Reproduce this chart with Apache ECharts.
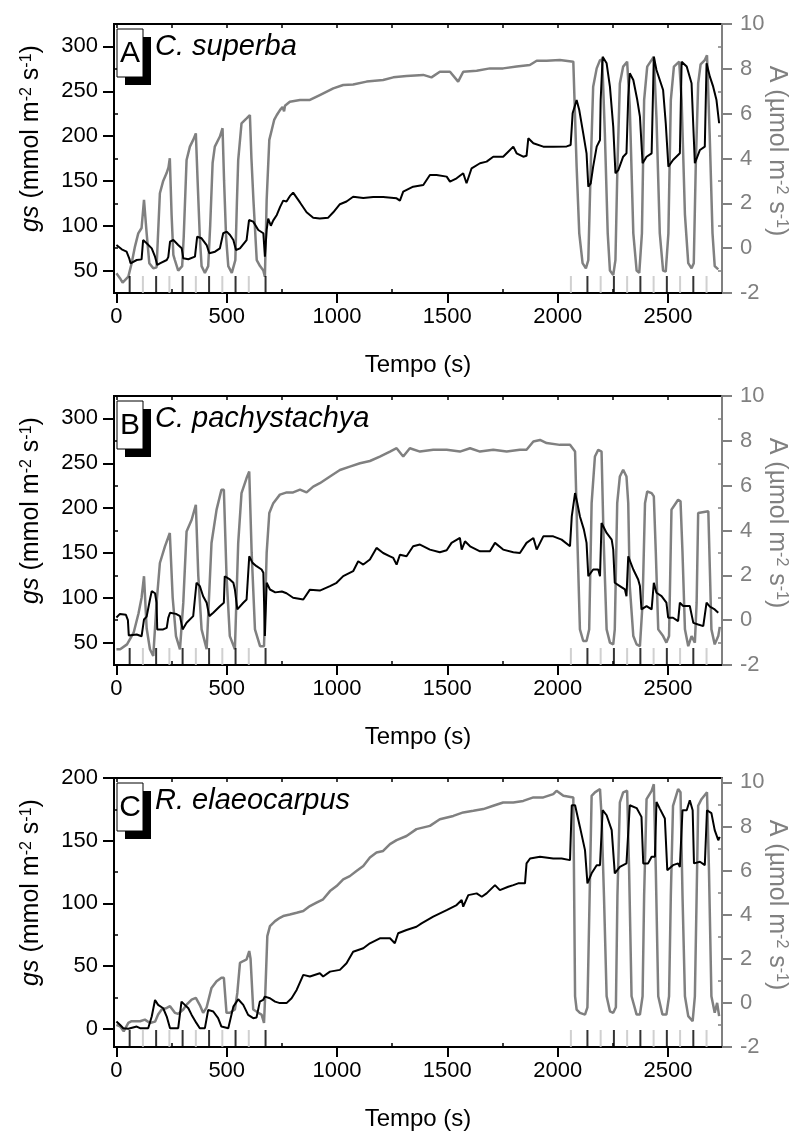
<!DOCTYPE html>
<html>
<head>
<meta charset="utf-8">
<script src="https://cdn.jsdelivr.net/npm/echarts@6/dist/echarts.min.js"></script>
<style>
  html, body { margin: 0; padding: 0; background: #fff; }
  #chart { width: 795px; height: 1133px; }
</style>
</head>
<body>
<div id="chart"></div>
<script>
// ---- tick values ----
var xTicks = [0, 500, 1000, 1500, 2000, 2500];
var xMinor = [250, 750, 1250, 1750, 2250];
var gsTicksAB = [50, 100, 150, 200, 250, 300];
var gsMinorAB = [75, 125, 175, 225, 275];
var gsTicksC = [0, 50, 100, 150, 200];
var gsMinorC = [25, 75, 125, 175];
var aTicks = [-2, 0, 2, 4, 6, 8, 10];
var aMinor = [-1, 1, 3, 5, 7, 9];

// light on / off marks (s)
var lightOn = [60, 180, 300, 420, 540, 676, 2135, 2255, 2375, 2495, 2615];
var lightOff = [120, 240, 360, 480, 600, 2060, 2195, 2315, 2435, 2555, 2675];

// ---- A: C. superba ----  [tempo, valor]
var gsA = [[0,78.5],[24,73.7],[46,71.1],[58,63.7],[64,58.1],[92,61.8],[114,62.5],[121,84.1],[137,80.4],[160,74.8],[175,65.5],[185,56.2],[197,58.1],[228,61.8],[235,65],[243,82.2],[258,84.1],[280,78.5],[296,74.8],[303,63.7],[326,62.6],[356,65.5],[366,87.8],[386,86],[409,78.5],[421,69.3],[447,71.1],[469,74.8],[484,91.6],[500,93.4],[515,89.7],[530,84.1],[542,73],[560,74.8],[590,84.1],[601,106.4],[620,104.6],[643,95.3],[666,91.6],[673,65.5],[681,95.3],[688,108],[700,100],[711,106],[727,112],[742,121],[756,128],[771,127],[786,133],[801,137],[832,126],[862,115],[892,109],[922,108],[960,109],[983,115],[1013,124],[1043,127],[1073,132.4],[1119,131],[1164,132],[1209,132],[1270,130.6],[1285,128],[1300,138],[1345,143.6],[1391,145.5],[1421,156.6],[1451,156.6],[1497,154.8],[1512,149.2],[1542,152.9],[1572,158.5],[1587,147.4],[1610,164.1],[1648,169.7],[1678,171.5],[1708,177],[1753,177],[1776,182.6],[1799,188.2],[1814,180.8],[1844,177],[1859,178],[1867,197.5],[1890,192],[1935,188.2],[1980,188.2],[2041,188.5],[2059,190],[2068,225.4],[2086,240.2],[2098,229],[2116,203.1],[2131,180.8],[2139,143.6],[2150,147.3],[2161,166],[2177,188.2],[2192,195.6],[2195,240.2],[2204,288.5],[2222,281.2],[2237,255.1],[2252,210.5],[2262,158.5],[2275,162],[2297,177],[2312,180.8],[2320,243.9],[2327,270],[2343,262.6],[2361,240.2],[2373,221.6],[2385,169.7],[2403,177],[2426,180.8],[2436,288.5],[2448,273.7],[2478,251.4],[2490,214.3],[2502,166],[2523,173.3],[2554,180.8],[2562,283],[2585,277.5],[2607,258.9],[2615,210.5],[2622,169.7],[2645,184.5],[2667,188.2],[2675,281.2],[2690,266.3],[2705,255.1],[2720,240.2],[2732,214.3]];
var photoA = [[0,-1.12],[16,-1.34],[28,-1.54],[54,-1.27],[69,-0.67],[84,0.07],[99,0.66],[114,0.9],[125,2.15],[137,0.66],[149,-0.67],[167,-0.9],[182,-0.85],[197,2.45],[212,3.0],[227,3.34],[236,3.6],[242,4.01],[250,1.5],[258,-0.3],[265,-0.53],[280,-1.0],[298,-0.8],[305,0.5],[318,3.93],[333,4.53],[348,4.83],[360,5.12],[368,3.0],[378,0.5],[386,-0.8],[401,-1.1],[416,-0.8],[425,1.0],[436,3.8],[446,4.53],[469,4.98],[481,5.35],[488,3.0],[497,0.5],[507,-0.8],[523,-1.1],[539,-0.53],[546,2.0],[552,3.93],[567,5.57],[590,5.79],[605,5.94],[612,4.0],[621,2.15],[636,-0.53],[651,-0.8],[666,-1.0],[673,-1.27],[681,2.15],[693,4.83],[704,5.27],[715,5.72],[727,5.94],[742,6.17],[753,6.3],[760,6.1],[764,6.35],[786,6.53],[832,6.61],[877,6.61],[922,6.83],[983,7.13],[1028,7.28],[1073,7.3],[1134,7.43],[1209,7.5],[1255,7.62],[1315,7.68],[1391,7.73],[1428,7.62],[1466,7.87],[1512,7.87],[1549,7.43],[1572,7.87],[1633,7.91],[1693,8.02],[1753,8.02],[1814,8.1],[1874,8.17],[1905,8.36],[1950,8.36],[2010,8.39],[2071,8.32],[2086,3.64],[2098,0.66],[2113,-0.67],[2128,-0.9],[2139,-0.53],[2150,3.64],[2161,7.2],[2177,8.02],[2192,8.39],[2202,8.42],[2214,5.12],[2227,0.66],[2237,-1.0],[2252,-1.2],[2262,-0.53],[2271,3.64],[2282,7.35],[2297,8.1],[2315,8.32],[2327,6.3],[2343,0.66],[2358,-1.0],[2370,-1.1],[2382,0.66],[2392,6.6],[2406,8.1],[2421,8.32],[2436,8.54],[2448,5.8],[2463,0.66],[2478,-1.0],[2490,-1.05],[2502,0.66],[2513,6.6],[2527,8.1],[2551,8.32],[2562,6.6],[2577,1.5],[2592,-0.67],[2607,-0.9],[2617,-0.67],[2626,3.64],[2637,7.35],[2648,8.2],[2667,8.39],[2677,8.6],[2689,5.12],[2702,0.66],[2712,-0.8],[2728,-0.95]];

// ---- B: C. pachystachya ----
var gsB = [[0,78],[16,82],[43,81],[52,75],[56,58],[92,59],[114,57],[125,75.8],[137,79],[152,98.1],[160,107.3],[175,105],[182,94.4],[185,64.7],[212,64.7],[228,66.5],[235,77.6],[243,83.3],[270,82],[288,79.5],[300,64.7],[318,72.2],[348,79.5],[363,116.7],[378,113],[393,101.7],[409,94.4],[421,79.5],[439,83.3],[469,90.6],[487,94.4],[491,124],[514,120.4],[530,116.7],[537,109.2],[548,87],[575,94.4],[590,98.1],[602,146.2],[617,138.9],[635,135.2],[658,131.5],[666,127.8],[673,57.3],[681,116.7],[696,109.2],[720,106],[750,107],[771,105],[801,100],[847,98],[877,109],[922,108],[968,112.9],[998,116.7],[1028,124.1],[1073,129.6],[1096,140.7],[1119,137],[1149,142.6],[1179,155.6],[1209,149.9],[1240,146.2],[1255,144.4],[1270,137],[1285,148],[1315,146.2],[1345,157.4],[1376,159.3],[1421,153.7],[1466,150.7],[1497,153],[1519,161.2],[1557,166.7],[1565,153.7],[1580,163],[1603,157.4],[1648,151.8],[1693,151.8],[1716,161.2],[1753,153.7],[1799,150.7],[1829,149.9],[1859,161.2],[1890,166.7],[1905,153.7],[1935,168.5],[1980,168.5],[2018,164.8],[2056,157.4],[2064,190.7],[2079,216.8],[2089,205.7],[2101,190.7],[2119,176],[2131,161.2],[2139,124],[2161,131.5],[2184,131.5],[2192,124],[2199,183.4],[2222,172.3],[2245,164.9],[2252,153.7],[2259,116.7],[2282,113],[2305,109.3],[2312,101.7],[2320,146.2],[2343,131.5],[2365,120.3],[2373,113],[2380,87],[2403,90.7],[2426,87],[2436,116.7],[2448,105.6],[2471,101.9],[2493,94.5],[2501,77.7],[2523,77.7],[2546,73.9],[2554,94.5],[2569,90.8],[2599,90.8],[2615,72],[2637,70.2],[2660,68.4],[2667,68],[2675,94.5],[2690,90],[2712,87],[2728,83.3]];
var photoB = [[0,-1.3],[17,-1.3],[48,-1.08],[78,-0.56],[100,0.3],[114,1.0],[125,1.96],[137,-0.36],[152,-1.3],[167,-1.6],[182,0.77],[197,2.55],[220,3.29],[242,3.89],[255,1.0],[270,-0.71],[288,-1.3],[303,0.77],[318,3.96],[341,4.48],[360,5.15],[371,2.0],[386,-0.41],[409,-1.3],[431,3.44],[454,4.93],[476,5.82],[487,5.82],[499,2.0],[514,-0.71],[537,-1.3],[552,3.44],[567,5.67],[590,6.34],[602,6.63],[613,3.0],[628,-0.41],[651,-1.16],[669,-1.16],[681,3.0],[693,4.78],[711,5.22],[741,5.6],[772,5.7],[801,5.7],[832,5.82],[862,5.7],[892,5.96],[922,6.11],[968,6.41],[1013,6.7],[1058,6.85],[1104,7.0],[1149,7.1],[1194,7.3],[1240,7.52],[1270,7.67],[1300,7.3],[1330,7.67],[1376,7.52],[1436,7.6],[1497,7.6],[1557,7.52],[1603,7.67],[1648,7.52],[1708,7.6],[1769,7.52],[1829,7.6],[1859,7.6],[1890,7.97],[1920,8.04],[1950,7.9],[2010,7.82],[2056,7.82],[2079,7.52],[2089,3.74],[2101,-0.41],[2116,-0.93],[2131,-0.93],[2143,-0.41],[2154,5.22],[2169,7.3],[2184,7.6],[2199,7.52],[2208,3.74],[2222,-0.41],[2237,-1.0],[2252,-1.08],[2259,-0.41],[2270,5.22],[2282,6.41],[2297,6.71],[2312,6.41],[2320,5.22],[2327,1.51],[2343,-0.71],[2358,-1.08],[2373,-1.16],[2385,0.77],[2396,5.22],[2406,5.74],[2426,5.67],[2436,5.52],[2445,3.0],[2456,-0.41],[2478,-0.71],[2493,-1.0],[2505,-0.71],[2516,4.93],[2531,5.15],[2546,5.37],[2557,5.3],[2566,3.0],[2577,-0.41],[2592,-1.16],[2607,-0.71],[2622,-1.0],[2630,0.77],[2637,4.78],[2645,4.86],[2683,4.86],[2690,2.26],[2697,-0.41],[2712,-1.08],[2728,-0.71],[2735,-0.3]];

// ---- C: R. elaeocarpus ----
var gsC = [[0,5.8],[16,3.2],[31,0.5],[54,0],[92,1.8],[107,0.5],[144,0.5],[160,9.8],[175,23],[189,19.1],[212,16.4],[228,9.8],[243,0.5],[280,0.5],[295,21.7],[310,19.1],[326,16.4],[341,11.1],[363,4.5],[378,0.5],[401,0.5],[416,15.1],[439,13.8],[461,8.5],[476,1.8],[507,0.5],[530,17.7],[552,23.6],[575,19.1],[597,11.1],[620,8.5],[635,9],[650,21.7],[665,23],[673,25.7],[696,24.4],[719,21.7],[741,20.5],[771,20.5],[794,24.4],[817,31],[847,43],[877,41.7],[922,44.3],[937,41.7],[968,45.6],[1013,47],[1043,52.3],[1073,61.5],[1119,64.2],[1149,68.2],[1194,72.2],[1240,72.2],[1262,68.2],[1277,76.2],[1315,78.8],[1360,81.4],[1383,84.1],[1436,89.4],[1497,94.7],[1542,98.7],[1565,102.7],[1572,97.4],[1595,106.6],[1633,108],[1656,105.3],[1678,108],[1716,114.6],[1738,110.6],[1776,113.3],[1799,114.6],[1821,116],[1852,116],[1859,131.9],[1875,135.8],[1920,137.2],[1980,135.8],[2018,135.8],[2056,134.5],[2064,178.3],[2079,178.3],[2101,161],[2124,142.5],[2135,116],[2154,124],[2177,130.5],[2192,130.5],[2204,174.3],[2222,170.3],[2245,158.4],[2259,124],[2282,129.2],[2312,131.9],[2327,178.3],[2358,176],[2380,169],[2388,131.9],[2410,131.9],[2426,137.2],[2441,137.2],[2448,180.9],[2463,175.6],[2486,167.7],[2497,126.5],[2523,130.5],[2546,131.9],[2554,129],[2566,174.3],[2585,174.3],[2599,182.3],[2612,174.3],[2618,131.9],[2645,133.2],[2667,130.5],[2677,174.3],[2697,172],[2712,158.4],[2728,150.4],[2735,153]];
var photoC = [[0,-0.99],[16,-1.06],[33,-1.29],[54,-0.91],[69,-0.83],[107,-0.83],[129,-0.76],[152,-0.91],[175,-0.85],[189,-0.53],[205,-0.3],[228,-0.23],[243,-0.15],[265,-0.45],[280,-0.5],[303,-0.3],[318,-0.08],[341,0.15],[360,0.23],[378,-0.1],[393,-0.45],[409,-0.2],[431,0.68],[454,0.98],[476,1.14],[487,1.14],[499,-0.45],[514,-0.45],[537,-0.3],[548,0.45],[560,1.82],[575,1.9],[590,1.97],[602,2.35],[608,2.0],[620,-0.3],[643,-0.45],[658,-0.53],[669,-0.91],[675,0.5],[684,3.03],[696,3.48],[719,3.71],[741,3.86],[756,3.94],[786,4.01],[817,4.09],[847,4.17],[877,4.39],[907,4.55],[937,4.7],[968,5.07],[998,5.3],[1028,5.6],[1058,5.75],[1088,5.98],[1119,6.21],[1149,6.59],[1179,6.82],[1209,6.89],[1240,7.2],[1270,7.38],[1315,7.57],[1360,7.88],[1421,8.03],[1466,8.33],[1527,8.48],[1572,8.64],[1618,8.71],[1663,8.79],[1708,8.94],[1753,9.09],[1799,9.09],[1844,9.16],[1890,9.32],[1935,9.32],[1980,9.47],[1995,9.62],[2026,9.39],[2071,9.32],[2079,0.3],[2086,-0.3],[2101,-0.45],[2124,-0.53],[2135,-0.2],[2145,4.85],[2154,9.39],[2169,9.55],[2192,9.7],[2199,8.5],[2210,4.85],[2222,0.3],[2237,-0.38],[2252,-0.45],[2264,-0.2],[2271,4.85],[2282,9.09],[2297,9.55],[2315,9.62],[2324,6.0],[2335,0.3],[2358,-0.53],[2373,-0.53],[2385,0.3],[2392,4.85],[2403,9.24],[2426,9.62],[2436,9.92],[2445,6.0],[2456,0.3],[2475,-0.53],[2493,-0.53],[2505,0.3],[2513,4.85],[2523,8.94],[2546,9.7],[2557,9.55],[2566,4.85],[2577,0.3],[2592,-0.6],[2612,-0.83],[2622,0.3],[2630,4.85],[2637,8.94],[2652,9.24],[2677,9.55],[2686,6.0],[2697,0.3],[2712,-0.45],[2723,0],[2732,-0.6]];

var FONT = '"Liberation Sans", Arial, Helvetica, sans-serif';
var GRAY = '#808080';
var LIGHTGRAY = '#c4c4c4';

var panels = [
  { top: 24,  letter: 'A', species: 'C. superba',      gs: gsA, photo: photoA, gsMin: 25,    gsMax: 325, gsTicks: gsTicksAB, gsMinor: gsMinorAB, aMax: 10 },
  { top: 396, letter: 'B', species: 'C. pachystachya', gs: gsB, photo: photoB, gsMin: 25,    gsMax: 325, gsTicks: gsTicksAB, gsMinor: gsMinorAB, aMax: 10 },
  { top: 778, letter: 'C', species: 'R. elaeocarpus',  gs: gsC, photo: photoC, gsMin: -14.5, gsMax: 200, gsTicks: gsTicksC,  gsMinor: gsMinorC,  aMax: 10.2 }
];

var X_MIN = -11, X_MAX = 2745;
var GRID_LEFT = 114, GRID_W = 608, GRID_H = 269;

function plain(v) { return String(v); }

var grids = [], xAxes = [], yAxes = [], series = [], graphics = [];

panels.forEach(function (p, i) {
  grids.push({
    left: GRID_LEFT, top: p.top, width: GRID_W, height: GRID_H,
    containLabel: false, outerBoundsMode: 'none',
    show: true, borderColor: '#000', borderWidth: 2, backgroundColor: 'transparent'
  });

  // x axes: main (bottom), minor ticks (bottom, inside), top ticks
  xAxes.push({
    gridIndex: i, type: 'value', min: X_MIN, max: X_MAX, position: 'bottom',
    axisLine: { onZero: false, lineStyle: { color: '#000', width: 2 } },
    axisTick: { customValues: xTicks, length: 10, lineStyle: { color: '#000', width: 2 } },
    axisLabel: { customValues: xTicks, formatter: plain, fontFamily: FONT, fontSize: 22, color: '#000', margin: 13 },
    splitLine: { show: false },
    name: 'Tempo (s)', nameLocation: 'middle', nameGap: 60, nameMoveOverlap: false,
    nameTextStyle: { fontFamily: FONT, fontSize: 24, color: '#000' }
  });
  xAxes.push({
    gridIndex: i, type: 'value', min: X_MIN, max: X_MAX, position: 'bottom',
    axisLine: { show: false, onZero: false },
    axisTick: { customValues: xMinor, inside: true, length: 4, lineStyle: { color: '#000', width: 1.5 } },
    axisLabel: { show: false }, splitLine: { show: false }
  });
  xAxes.push({
    gridIndex: i, type: 'value', min: X_MIN, max: X_MAX, position: 'top',
    axisLine: { show: false, onZero: false },
    axisTick: { customValues: xTicks.concat(xMinor), inside: true, length: 4, lineStyle: { color: '#000', width: 1.5 } },
    axisLabel: { show: false }, splitLine: { show: false }
  });

  // y axes: gs main, gs minor, A main, A minor
  yAxes.push({
    gridIndex: i, type: 'value', min: p.gsMin, max: p.gsMax, position: 'left',
    axisLine: { show: true, onZero: false, lineStyle: { color: '#000', width: 2 } },
    axisTick: { show: true, customValues: p.gsTicks, length: 11, lineStyle: { color: '#000', width: 2 } },
    axisLabel: { customValues: p.gsTicks, formatter: plain, fontFamily: FONT, fontSize: 22, color: '#000', margin: 16 },
    splitLine: { show: false },
    name: '{it|gs} (mmol m{sup|-2} s{sup|-1})',
    nameLocation: 'middle', nameRotate: 90, nameGap: 70, nameMoveOverlap: false,
    nameTextStyle: {
      fontFamily: FONT, fontSize: 25, color: '#000', padding: [0, 0, 0, 40],
      rich: {
        it: { fontFamily: FONT, fontSize: 25, fontStyle: 'italic', color: '#000' },
        sup: { fontFamily: FONT, fontSize: 16, color: '#000', verticalAlign: 'top' }
      }
    }
  });
  yAxes.push({
    gridIndex: i, type: 'value', min: p.gsMin, max: p.gsMax, position: 'left',
    axisLine: { show: false, onZero: false },
    axisTick: { show: true, customValues: p.gsMinor, inside: true, length: 4, lineStyle: { color: '#000', width: 1.5 } },
    axisLabel: { show: false }, splitLine: { show: false }
  });
  yAxes.push({
    gridIndex: i, type: 'value', min: -2, max: p.aMax, position: 'right',
    axisLine: { show: true, onZero: false, lineStyle: { color: GRAY, width: 2 } },
    axisTick: { show: true, customValues: aTicks, length: 10, lineStyle: { color: GRAY, width: 2 } },
    axisLabel: { customValues: aTicks, formatter: plain, fontFamily: FONT, fontSize: 22, color: GRAY, margin: 18 },
    splitLine: { show: false },
    name: 'A (µmol m{sup|-2} s{sup|-1})',
    nameLocation: 'middle', nameRotate: -90, nameGap: 42, nameMoveOverlap: false,
    nameTextStyle: {
      fontFamily: FONT, fontSize: 25, color: GRAY, padding: [0, 15, 0, 0],
      rich: {
        sup: { fontFamily: FONT, fontSize: 16, color: GRAY, verticalAlign: 'top' }
      }
    }
  });
  yAxes.push({
    gridIndex: i, type: 'value', min: -2, max: p.aMax, position: 'right',
    axisLine: { show: false, onZero: false },
    axisTick: { show: true, customValues: aMinor, inside: true, length: 4, lineStyle: { color: GRAY, width: 1.5 } },
    axisLabel: { show: false }, splitLine: { show: false }
  });

  var xi = i * 3, yi = i * 4;

  series.push({
    type: 'line', xAxisIndex: xi, yAxisIndex: yi + 2, data: p.photo,
    symbol: 'none', lineStyle: { color: GRAY, width: 2.5 }, animation: false, z: 2
  });
  series.push({
    type: 'line', xAxisIndex: xi, yAxisIndex: yi, data: p.gs,
    symbol: 'none', lineStyle: { color: '#000', width: 2 }, animation: false, z: 3
  });
  series.push({
    type: 'scatter', xAxisIndex: xi, yAxisIndex: yi,
    data: lightOff.map(function (t) { return [t, p.gsMin]; }),
    symbol: 'rect', symbolSize: [2, 17], symbolOffset: [0, '-50%'],
    itemStyle: { color: LIGHTGRAY }, clip: false, silent: true, animation: false, z: 4
  });
  series.push({
    type: 'scatter', xAxisIndex: xi, yAxisIndex: yi,
    data: lightOn.map(function (t) { return [t, p.gsMin]; }),
    symbol: 'rect', symbolSize: [2, 17], symbolOffset: [0, '-50%'],
    itemStyle: { color: '#000' }, clip: false, silent: true, animation: false, z: 4
  });

  // panel letter box with shadow + species name
  graphics.push({ type: 'rect', z: 100, shape: { x: 125, y: p.top + 13, width: 26, height: 48 }, style: { fill: '#000' } });
  graphics.push({ type: 'rect', z: 101, shape: { x: 117, y: p.top + 5, width: 26, height: 48 }, style: { fill: '#fff', stroke: '#000', lineWidth: 1 } });
  graphics.push({ type: 'text', z: 102, x: 130, y: p.top + 30,
    style: { text: p.letter, fontFamily: FONT, fontSize: 30, fill: '#000', align: 'center', verticalAlign: 'middle' } });
  graphics.push({ type: 'text', z: 102, x: 155, y: p.top + 23,
    style: { text: p.species, fontFamily: FONT, fontSize: 29, fontStyle: 'italic', fill: '#000', align: 'left', verticalAlign: 'middle' } });
});

var chart = echarts.init(document.getElementById('chart'), null, { renderer: 'canvas' });
chart.setOption({
  animation: false,
  backgroundColor: '#fff',
  grid: grids,
  xAxis: xAxes,
  yAxis: yAxes,
  series: series,
  graphic: graphics
});
</script>
</body>
</html>
